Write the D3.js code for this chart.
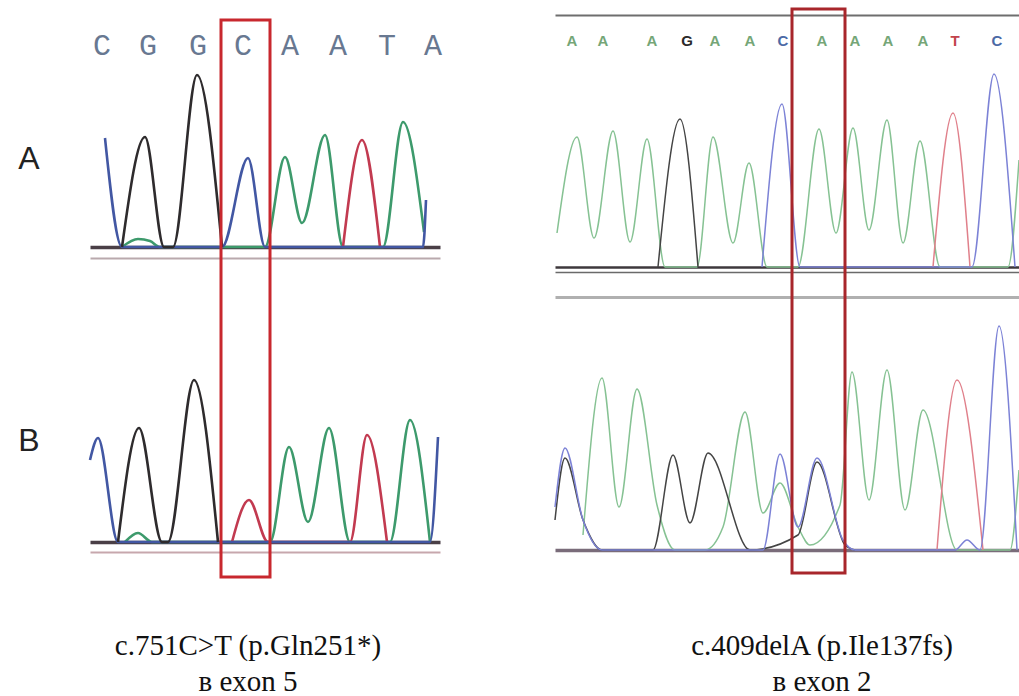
<!DOCTYPE html>
<html>
<head>
<meta charset="utf-8">
<script src="https://cdn.jsdelivr.net/npm/d3@7"></script>
<style>
  body { margin: 0; background: #fff; }
  svg { display: block; }
</style>
</head>
<body>
<div id="chart"></div>
<script>
// base calls above each column: [letter, scan position]
var leftBases = [['C', 6], ['G', 29], ['G', 54], ['C', 76.5], ['A', 100], ['A', 124], ['T', 148.5], ['A', 171.5]];
var rightBases = [['A', 8.5], ['A', 24], ['A', 48.5], ['G', 66], ['A', 80], ['A', 97.5], ['C', 114],
  ['A', 133.5], ['A', 150], ['A', 166.5], ['A', 184], ['T', 200], ['C', 221]];

// traces: [scan, signal], vertices (peaks and valleys)
var laBlue  = [[7.5, 1090], [16, 0], [66, 0], [79, 890], [87.5, 0], [166.5, 0], [168, 470]];
var laBlack = [[16, 0], [27.5, 1100], [37, 0], [41.5, 0], [53.5, 1720], [66, 0]];
var laGreen = [[16, 0], [24, 80], [30, 60], [35, 0], [87.5, 0], [97.5, 900], [106, 240], [117.5, 1120],
  [126.5, 0], [146.5, 0], [156.5, 1250], [167, 150]];
var laRed   = [[126.5, 0], [136, 1070], [145, 0]];

var lbBlue  = [[0, 820], [4, 1040], [14, 0], [170, 0], [174, 1050]];
var lbBlack = [[14, 0], [24.5, 1140], [36, 0], [39, 0], [52, 1620], [64, 0]];
var lbGreen = [[17.5, 0], [24, 90], [31, 0], [90, 0], [99.5, 950], [109, 200], [119.5, 1140], [130, 0],
  [150, 0], [160, 1220], [170, 0]];
var lbRed   = [[71, 0], [79.5, 420], [89, 0], [130, 0], [138.5, 1070], [148.5, 0]];

var raGreen = [[1, 340], [11, 1300], [19.5, 290], [29, 1360], [37.5, 250], [46, 1280], [55, 0], [71, 0],
  [79, 1300], [89, 240], [97, 1040], [106, 0], [121.5, 0], [132, 1380], [140.5, 340], [149, 1390],
  [157, 370], [166, 1470], [174, 240], [182.5, 1260], [192.5, 0], [226.5, 0], [232, 1070]];
var raBlack = [[51.5, 0], [62.5, 1480], [71.5, 0]];
var raBlue  = [[103.5, 0], [113.5, 1630], [122.5, 0], [208.5, 0], [219.5, 1930], [230, 0]];
var raRed   = [[189, 0], [199, 1540], [207.5, 0]];

var rbBlue  = [[0, 430], [5, 1020], [14, 300], [23.5, 0], [104, 0], [112.5, 960], [121.5, 230], [131, 920],
  [144, 100], [150, 0], [200, 0], [206, 100], [212.5, 0], [222, 2240], [231, 0]];
var rbBlack = [[0, 300], [5, 920], [14, 300], [23.5, 0], [49, 0], [59, 950], [67.5, 270], [76.5, 970],
  [97.5, 0], [121.5, 150], [131, 880], [145, 50], [150, 0]];
var rbGreen = [[14, 150], [23.5, 1720], [32, 430], [41, 1610], [51, 450], [60, 0], [75, 0], [84, 230],
  [95, 1380], [104, 370], [112.5, 670], [121.5, 230], [127.5, 50], [142.5, 450], [148.5, 1780], [157, 500],
  [166, 1800], [175, 400], [184, 1400], [201, 0], [227.5, 0], [232, 800]];
var rbRed   = [[191, 0], [201, 1700], [214, 0]];

// highlighted base (scan range) in each column
var leftMark = [65.5, 90];
var rightMark = [118.5, 145];

var panelLabels = ['A', 'B'];
var captions = [
  ['c.751C>T (p.Gln251*)', 'в exon 5'],
  ['c.409delA (p.Ile137fs)', 'в exon 2']
];

(function () {
  'use strict';

  var width = 1019, height = 696;
  var svg = d3.select('#chart').append('svg')
    .attr('width', width)
    .attr('height', height);

  var xLeft = d3.scaleLinear().domain([0, 175]).range([90, 440]);
  var xRight = d3.scaleLinear().domain([0, 232]).range([555, 1019]);

  var dark = {green: '#3d9a6c', black: '#2e2b2d', blue: '#4257a3', red: '#c23a50'};
  var light = {green: '#86c293', black: '#444', blue: '#7c82d6', red: '#e0808b'};

  var panels = [
    {x: xLeft, base: 247, w: 2.6, col: dark, baseStroke: ['#4a3f46', 3.4], lines: [[258, '#b9a9ad', 2]],
      traces: [['green', laGreen], ['red', laRed], ['blue', laBlue], ['black', laBlack]]},
    {x: xLeft, base: 542, w: 2.6, col: dark, baseStroke: ['#4a3f46', 3.4], lines: [[552, '#c7a7ad', 2]],
      traces: [['green', lbGreen], ['red', lbRed], ['blue', lbBlue], ['black', lbBlack]]},
    {x: xRight, base: 267, w: 1.5, col: light, baseStroke: ['#3e383c', 2.4],
      lines: [[272, '#6a6a6a', 1.5], [297, '#b0b0b0', 3]],
      traces: [['green', raGreen], ['red', raRed], ['blue', raBlue], ['black', raBlack]]},
    {x: xRight, base: 550, w: 1.5, col: light, baseStroke: ['#7a6c7a', 3.6], lines: [],
      traces: [['green', rbGreen], ['red', rbRed], ['black', rbBlack], ['blue', rbBlue]]}
  ];

  panels.forEach(function (p) {
    var y = d3.scaleLinear().domain([0, 2000]).range([p.base, p.base - 200]);
    var g = svg.append('g');

    // reference lines under the trace, drawn as bare axes
    p.lines.forEach(function (l) {
      g.append('g')
        .attr('transform', 'translate(0,' + l[0] + ')')
        .call(d3.axisBottom(p.x).tickValues([]).tickSizeOuter(0))
        .select('.domain')
        .attr('stroke', l[1])
        .attr('stroke-width', l[2]);
    });

    var line = d3.line()
      .x(function (d) { return p.x(d[0]); })
      .y(function (d) { return y(d[1]); })
      .curve(d3.curveMonotoneX);

    // baseline of the trace
    g.append('g')
      .attr('transform', 'translate(0,' + p.base + ')')
      .call(d3.axisBottom(p.x).tickValues([]).tickSizeOuter(0))
      .select('.domain')
      .attr('stroke', p.baseStroke[0])
      .attr('stroke-width', p.baseStroke[1]);

    g.selectAll('path.trace')
      .data(p.traces)
      .enter().append('path')
      .attr('class', 'trace')
      .attr('d', function (d) { return line(d[1]); })
      .attr('fill', 'none')
      .attr('stroke', function (d) { return p.col[d[0]]; })
      .attr('stroke-width', p.w)
      .attr('stroke-linejoin', 'round');
  });

  // top rule of the right column
  svg.append('g')
    .attr('transform', 'translate(0,15)')
    .call(d3.axisBottom(xRight).tickValues([]).tickSizeOuter(0))
    .select('.domain')
    .attr('stroke', '#6e6e6e')
    .attr('stroke-width', 2);

  // base letters
  svg.selectAll('text.baseL')
    .data(leftBases)
    .enter().append('text')
    .attr('class', 'baseL')
    .attr('x', function (d) { return xLeft(d[1]); })
    .attr('y', 55)
    .attr('text-anchor', 'middle')
    .attr('font-family', 'Liberation Mono, monospace')
    .attr('font-size', 30)
    .attr('fill', '#687891')
    .text(function (d) { return d[0]; });

  var baseColor = {A: '#75a677', G: '#2a2a2a', C: '#4c6aa6', T: '#c2444c'};
  svg.selectAll('text.baseR')
    .data(rightBases)
    .enter().append('text')
    .attr('class', 'baseR')
    .attr('x', function (d) { return xRight(d[1]); })
    .attr('y', 46)
    .attr('text-anchor', 'middle')
    .attr('font-family', 'Liberation Sans, sans-serif')
    .attr('font-weight', 'bold')
    .attr('font-size', 15)
    .attr('fill', function (d) { return baseColor[d[0]]; })
    .text(function (d) { return d[0]; });

  // highlight boxes
  svg.append('rect')
    .attr('x', xLeft(leftMark[0]))
    .attr('y', 20)
    .attr('width', xLeft(leftMark[1]) - xLeft(leftMark[0]))
    .attr('height', 557)
    .attr('fill', 'none')
    .attr('stroke', '#c8282e')
    .attr('stroke-width', 3);
  svg.append('rect')
    .attr('x', xRight(rightMark[0]))
    .attr('y', 9)
    .attr('width', xRight(rightMark[1]) - xRight(rightMark[0]))
    .attr('height', 564)
    .attr('fill', 'none')
    .attr('stroke', '#a8262b')
    .attr('stroke-width', 3);

  // row labels
  svg.selectAll('text.row')
    .data(panelLabels)
    .enter().append('text')
    .attr('class', 'row')
    .attr('x', 29)
    .attr('y', function (d, i) { return i === 0 ? 169 : 451; })
    .attr('text-anchor', 'middle')
    .attr('font-family', 'Liberation Sans, sans-serif')
    .attr('font-size', 32)
    .attr('fill', '#222')
    .text(function (d) { return d; });

  // captions
  var capX = [248, 822];
  captions.forEach(function (c, i) {
    svg.append('text')
      .attr('x', capX[i])
      .attr('y', 655)
      .attr('text-anchor', 'middle')
      .attr('font-family', 'Liberation Serif, serif')
      .attr('font-size', 29)
      .attr('fill', '#111')
      .text(c[0]);
    svg.append('text')
      .attr('x', capX[i])
      .attr('y', 691)
      .attr('text-anchor', 'middle')
      .attr('font-family', 'Liberation Serif, serif')
      .attr('font-size', 29)
      .attr('fill', '#111')
      .text(c[1]);
  });
})();
</script>
</body>
</html>
